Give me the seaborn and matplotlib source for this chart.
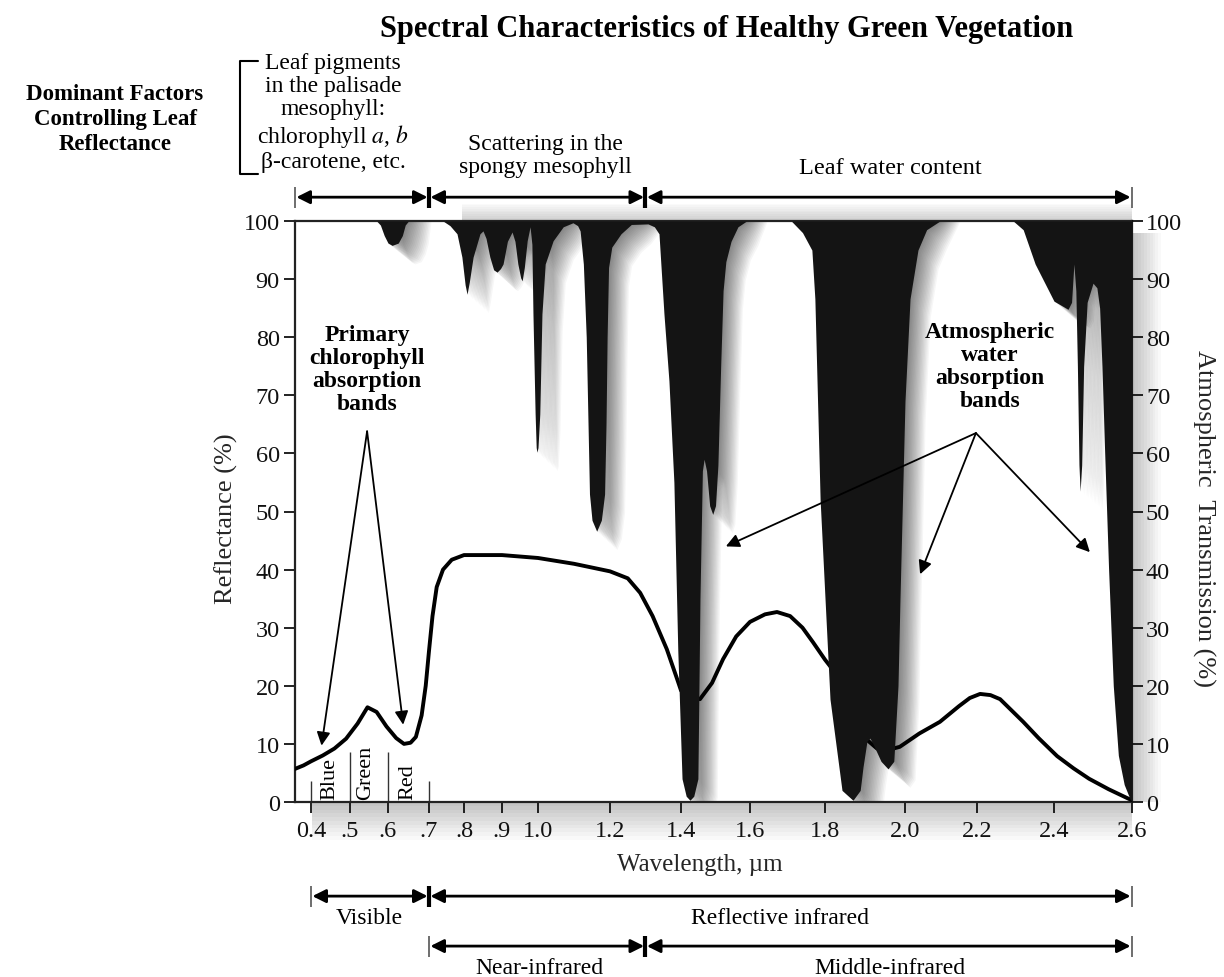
import numpy as np
import matplotlib
matplotlib.use("Agg")
import matplotlib.pyplot as plt
import seaborn as sns
from matplotlib.transforms import blended_transform_factory
from matplotlib.lines import Line2D
from matplotlib.patches import Rectangle

# ---------------- data ----------------
refl_wl = [0.357, 0.38, 0.40, 0.43, 0.46, 0.49, 0.52, 0.546, 0.57, 0.596, 0.62, 0.639,
           0.655, 0.668, 0.682, 0.692, 0.70, 0.71, 0.722, 0.74, 0.765, 0.80, 0.90, 1.00,
           1.10, 1.20, 1.25, 1.285, 1.32, 1.36, 1.39, 1.40, 1.42, 1.455, 1.49, 1.522,
           1.56, 1.60, 1.64, 1.672, 1.707, 1.74, 1.768, 1.80, 1.8375, 1.87, 1.90, 1.93,
           1.96, 1.987, 2.04, 2.097, 2.15, 2.18, 2.208, 2.235, 2.26, 2.32, 2.36, 2.408,
           2.45, 2.49, 2.54, 2.59, 2.60]
refl = [5.7, 6.3, 7.0, 8.0, 9.2, 10.9, 13.5, 16.3, 15.5, 13.0, 11.0, 10.0,
        10.2, 11.2, 14.9, 20.0, 26.0, 32.0, 37.0, 40.0, 41.7, 42.5, 42.5, 42.0,
        41.0, 39.7, 38.5, 36.0, 32.0, 26.3, 21.0, 19.2, 18.0, 17.7, 20.5, 24.6,
        28.5, 31.0, 32.3, 32.7, 32.0, 30.0, 27.5, 24.5, 21.2, 16.0, 11.0, 9.2,
        9.0, 9.5, 11.8, 13.8, 16.5, 17.9, 18.6, 18.4, 17.7, 13.8, 11.0, 7.9,
        5.8, 4.0, 2.2, 0.6, 0.3]

trans_wl = [0.357, 0.57, 0.58, 0.59, 0.60, 0.61, 0.625, 0.635, 0.642, 0.65,
            0.74, 0.76, 0.78, 0.794, 0.803, 0.808, 0.814, 0.824, 0.842, 0.85,
            0.858, 0.868, 0.878, 0.887, 0.896, 0.903, 0.915, 0.928, 0.936, 0.944,
            0.952, 0.956, 0.962, 0.97, 0.978, 0.983, 0.986, 0.992, 0.995, 0.997,
            1.0, 1.005, 1.011, 1.02, 1.042, 1.07, 1.097, 1.11, 1.117, 1.126,
            1.134, 1.139, 1.143, 1.15, 1.163, 1.176, 1.185, 1.189, 1.192, 1.196,
            1.205, 1.231, 1.26, 1.307, 1.325, 1.338, 1.352, 1.366, 1.38, 1.391,
            1.403, 1.415, 1.426, 1.437, 1.449, 1.455, 1.462, 1.467, 1.474, 1.483,
            1.492, 1.50, 1.507, 1.515, 1.522, 1.53, 1.545, 1.565, 1.59, 1.71,
            1.74, 1.765, 1.773, 1.787, 1.8125, 1.8425, 1.87, 1.888, 1.895, 1.905,
            1.9125, 1.92, 1.94, 1.9575, 1.972, 1.9825, 1.9875, 2.0, 2.014, 2.036,
            2.06, 2.097, 2.294, 2.32, 2.351, 2.40, 2.436, 2.445, 2.451, 2.456,
            2.46, 2.464, 2.467, 2.471, 2.476, 2.485, 2.50, 2.51, 2.517, 2.523,
            2.53, 2.54, 2.552, 2.565, 2.58, 2.595, 2.60]
trans = [100, 100, 99.3, 97.5, 96.2, 95.8, 96.2, 97.5, 99.3, 100,
         100, 99.2, 97.8, 93.8, 89.0, 87.4, 89.5, 93.8, 97.8, 98.3,
         97.0, 93.8, 91.6, 91.2, 91.8, 92.6, 96.5, 98.1, 96.5, 92.6,
         90.2, 89.7, 92.0, 96.6, 99.0, 96.0, 84.0, 66.8, 61.0, 60.2,
         61.0, 66.8, 84.0, 92.6, 96.6, 99.0, 99.7, 99.2, 98.3, 92.6,
         80.0, 65.0, 53.0, 48.5, 46.6, 48.5, 53.0, 65.0, 80.0, 92.0,
         95.5, 97.8, 99.4, 99.5, 99.0, 97.8, 84.0, 72.5, 55.0, 26.0,
         4.0, 1.0, 0.3, 1.0, 4.0, 35.0, 57.0, 59.0, 57.0, 51.0,
         49.5, 51.0, 58.0, 75.0, 88.0, 93.0, 96.5, 99.0, 100, 100,
         98.0, 95.0, 86.6, 52.0, 17.7, 2.0, 0.3, 2.0, 6.0, 10.5,
         11.0, 10.0, 7.0, 5.7, 7.0, 20.0, 35.0, 69.0, 86.6, 95.0,
         98.5, 100, 100, 98.5, 92.6, 86.2, 84.8, 86.0, 92.6, 88.0,
         75.0, 58.0, 53.5, 58.0, 75.0, 86.0, 89.3, 88.5, 85.0, 75.0,
         60.0, 40.0, 20.0, 8.0, 3.0, 0.5, 0.0]

tick_wl = [0.4, 0.5, 0.6, 0.7, 0.8, 0.9, 1.0, 1.2, 1.4, 1.6, 1.8, 2.0, 2.2, 2.4, 2.6]
tick_labels = ["0.4", ".5", ".6", ".7", ".8", ".9", "1.0", "1.2", "1.4", "1.6",
               "1.8", "2.0", "2.2", "2.4", "2.6"]
y_ticks = list(range(0, 101, 10))

band_edges = [0.4, 0.5, 0.6, 0.7]
band_line_tops = [3.7, 8.6, 8.6, 3.7]
band_names = ["Blue", "Green", "Red"]
band_label_wl = [0.448, 0.541, 0.648]

top_row_edges = [0.357, 0.7, 1.3, 2.6]
visible_row_edges = [0.4, 0.7, 2.6]
ir_row_edges = [0.7, 1.3, 2.6]

# hand-drawn (non-uniform) wavelength axis of the original figure
knot_wl = [0.0, 0.357, 0.4, 0.5, 0.6, 0.7, 0.8, 0.9, 1.0, 1.2, 1.4, 1.6, 1.8, 2.0, 2.2, 2.4, 2.6, 3.0]
knot_pos = [156, 295, 311, 350, 388, 429, 464, 502, 538, 610, 681, 750, 825, 905, 977, 1054, 1132, 1288]

# ---------------- style ----------------
sns.set_theme(style="ticks")
plt.rcParams["font.family"] = ["Liberation Serif", "DejaVu Serif"]
plt.rcParams["mathtext.fontset"] = "stix"
plt.rcParams["axes.edgecolor"] = "#222222"
plt.rcParams["text.color"] = "black"

W, H = 1224, 978
fig = plt.figure(figsize=(W / 100, H / 100), dpi=100)
L, R, T, B = 295, 1132, 222, 803
ax = fig.add_axes([L / W, 1 - B / H, (R - L) / W, (B - T) / H])


def fwd(x):
    return np.interp(np.asarray(x, dtype=float), knot_wl, knot_pos)


def inv(p):
    return np.interp(np.asarray(p, dtype=float), knot_pos, knot_wl)


ax.set_xscale("function", functions=(fwd, inv))
ax.set_xlim(0.357, 2.6)
ax.set_ylim(0, 100)

twl = np.array(trans_wl)
ttr = np.array(trans)

# soft drop shadow of the absorption bands
for k in range(1, 17):
    ax.fill_between(twl + 0.0035 * k, np.where(ttr < 99.5, ttr - 0.2 * k, 100), 100,
                    color="black", alpha=0.035, lw=0, zorder=1)

# soft drop shadow of the plot frame (outside the axes)
for k in range(1, 11):
    f = k / 10.0
    ax.add_patch(Rectangle((0.02, -0.065 * f), 0.98, 0.065 * f, transform=ax.transAxes,
                           color="black", alpha=0.025, lw=0, clip_on=False, zorder=0))
    ax.add_patch(Rectangle((1.0, 0.0), 0.035 * f, 0.98, transform=ax.transAxes,
                           color="black", alpha=0.025, lw=0, clip_on=False, zorder=0))
    ax.add_patch(Rectangle((0.2, 1.0), 0.8, 0.03 * f, transform=ax.transAxes,
                           color="black", alpha=0.02, lw=0, clip_on=False, zorder=0))

# reflectance curve
sns.lineplot(x=refl_wl, y=refl, ax=ax, color="black", linewidth=2.8, sort=False,
             estimator=None, zorder=3)

# atmospheric absorption (black)
ax.fill_between(twl, ttr, 100, color="#141414", lw=0, zorder=4)

# colour band dividers
ax.vlines(band_edges, 0, band_line_tops, color="#333333", lw=1.0, zorder=2)
for name, xw in zip(band_names, band_label_wl):
    ax.text(xw, 0.6, name, rotation=90, ha="center", va="bottom", fontsize=16, zorder=5)

# axes cosmetics
ax.set_xticks(tick_wl)
ax.set_xticklabels(tick_labels)
ax.set_yticks(y_ticks)
for s in ax.spines.values():
    s.set_linewidth(1.6)
    s.set_color("#222222")
ax.tick_params(axis="both", direction="out", length=8, width=1.3, labelsize=17.5,
               colors="#111111")
ax.tick_params(axis="x", pad=5)
ax.tick_params(axis="y", pad=3)

ax2 = ax.twinx()
ax2.set_ylim(0, 100)
ax2.set_yticks(y_ticks)
ax2.tick_params(axis="y", direction="out", length=8, width=1.3, labelsize=17.5, pad=2,
                colors="#111111")
for s in ax2.spines.values():
    s.set_visible(False)

ax.set_ylabel("Reflectance (%)", fontsize=19, va="center")
ax.yaxis.set_label_coords(-0.082, 0.49)
ax2.set_ylabel("Atmospheric  Transmission (%)", fontsize=19, rotation=270, va="center")
ax2.yaxis.set_label_coords(1.085, 0.49)
ax.set_xlabel("Wavelength, \u00b5m", fontsize=18, va="center")
ax.xaxis.set_label_coords(0.484, -0.107)

# annotations with arrows
arr = dict(arrowstyle="-|>", color="black", lw=1.3, mutation_scale=20, shrinkA=0, shrinkB=0)
ax.text(0.545, 74.5, "Primary\nchlorophyll\nabsorption\nbands", ha="center", va="center",
        fontsize=17, fontweight="bold", linespacing=1.13, zorder=6)
for tip in [(0.427, 9.7), (0.637, 13.3)]:
    ax.annotate("", xy=tip, xytext=(0.545, 63.8), arrowprops=arr, zorder=6)

ax.text(2.234, 75.0, "Atmospheric\nwater\nabsorption\nbands", ha="center", va="center",
        fontsize=17, fontweight="bold", linespacing=1.13, zorder=6)
for tip in [(1.53, 44.0), (2.042, 39.2), (2.492, 43.0)]:
    ax.annotate("", xy=tip, xytext=(2.197, 63.5), arrowprops=arr, zorder=6)

# range arrows above and below the axes
bt = blended_transform_factory(ax.transData, ax.transAxes)
rng = dict(arrowstyle="<|-|>", color="black", lw=2.0, mutation_scale=20, shrinkA=1, shrinkB=1)


def range_row(edges, yfrac, thick):
    for a, b in zip(edges[:-1], edges[1:]):
        ax.annotate("", xy=(b, yfrac), xytext=(a, yfrac), xycoords=bt, textcoords=bt,
                    arrowprops=rng, annotation_clip=False)
    for i, e in enumerate(edges):
        lw = 3.0 if i in thick else 1.2
        col = "black" if i in thick else "#555555"
        ax.plot([e, e], [yfrac - 0.018, yfrac + 0.018], transform=bt, clip_on=False,
                color=col, lw=lw, solid_capstyle="butt")


range_row(top_row_edges, 1.041, thick=(1, 2))
range_row(visible_row_edges, -0.162, thick=(1,))
range_row(ir_row_edges, -0.248, thick=(1,))

ax.text(0.55, -0.198, "Visible", transform=bt, ha="center", va="center", fontsize=17)
ax.text(1.68, -0.198, "Reflective infrared", transform=bt, ha="center", va="center", fontsize=17)
ax.text(1.005, -0.284, "Near-infrared", transform=bt, ha="center", va="center", fontsize=17)
ax.text(1.9625, -0.284, "Middle-infrared", transform=bt, ha="center", va="center", fontsize=17)


# header texts (figure coordinates)
def fx(px):
    return px / W


def fy(py):
    return 1 - py / H


fig.text(fx(727), fy(30), "Spectral Characteristics of Healthy Green Vegetation",
         ha="center", va="center", fontsize=22, fontweight="bold")
fig.text(fx(115), fy(120), "Dominant Factors\nControlling Leaf\nReflectance",
         ha="center", va="center", fontsize=16.5, fontweight="bold", linespacing=1.25)
fig.add_artist(Line2D([fx(258), fx(240), fx(240), fx(258)], [fy(62), fy(62), fy(175), fy(175)],
                      color="black", lw=1.5))
fig.text(fx(333), fy(113),
         "Leaf pigments\nin the palisade\nmesophyll:\nchlorophyll $\\mathit{a}$, $\\mathit{b}$\n\u03b2-carotene, etc.",
         ha="center", va="center", fontsize=17, linespacing=1.14)
fig.text(fx(545), fy(156), "Scattering in the\nspongy mesophyll", ha="center", va="center",
         fontsize=17, linespacing=1.14)
fig.text(fx(890), fy(168), "Leaf water content", ha="center", va="center", fontsize=17.5)

fig.savefig("out.png", dpi=100)
